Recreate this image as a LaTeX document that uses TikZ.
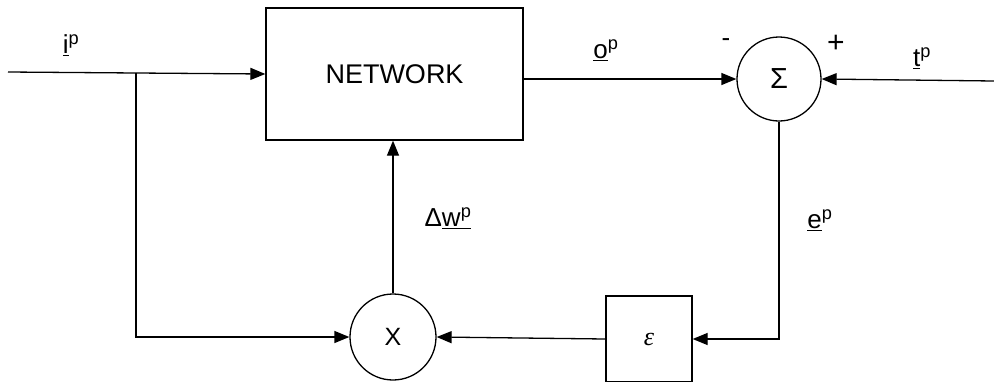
\documentclass[tikz,border=0pt]{standalone}
\usepackage{fontspec}
\setmainfont{Liberation Sans}
\newfontfamily\grserif{Liberation Serif}
\usetikzlibrary{arrows.meta}
\newcommand{\vlbl}[2]{\underline{#1}\textsuperscript{#2}}
\begin{document}
\begin{tikzpicture}[x=1pt,y=-1pt, line width=1.3pt,
  >={Triangle[length=15pt,width=12pt]},
  blk/.style={draw, rectangle, inner sep=0pt},
  junc/.style={draw, circle, inner sep=0pt},
  lbl/.style={font=\fontsize{26}{28}\selectfont, inner sep=0pt}]
\useasboundingbox (0,0) rectangle (994,381);
\clip (0,0) rectangle (994,381);
% blocks
\node[blk, minimum width=257pt, minimum height=132pt,
      font=\fontsize{27}{30}\selectfont] (net) at (394.5,74) {NETWORK};
\node[junc, minimum size=84pt, font=\fontsize{29}{32}\selectfont] (sig) at (779,79) {Σ};
\node[junc, minimum size=86pt, font=\fontsize{25}{28}\selectfont] (xm) at (393,337) {X};
\node[blk, minimum width=86pt, minimum height=86pt,
      font=\grserif\itshape\fontsize{26}{28}\selectfont] (eps) at (649,339) {ε};
% free ends
\coordinate (in) at (8,72);
\coordinate (br) at (136,72.5);
\coordinate (tin) at (994,81);
% connectors
\draw[->] (in) -- (net.west);
\draw[->] (br) |- (xm.west);
\draw[->] (xm.north) -- (xm.north |- net.south);
\draw[->] (net.east |- sig.west) -- (sig.west);
\draw[->] (tin) -- (sig.east);
\draw[->] (sig.south) |- (eps.east);
\draw[->] (eps.west) -- (xm.east);
% labels
\node[lbl] (lip) at (71,45) {\vlbl{i}{p}};
\node[lbl] (lop) at (606,50) {\vlbl{o}{p}};
\node[lbl] (ltp) at (922,58) {\vlbl{t}{p}};
\node[lbl] (lep) at (820,220) {\vlbl{e}{p}};
\node[lbl] (ldw) at (448,218) {Δ\underline{w\textsuperscript{p}}};
\node[lbl] (lminus) at (726,43) {-};
\node[lbl, font=\fontsize{30}{32}\selectfont] (lplus) at (836,44) {+};
\end{tikzpicture}
\end{document}
